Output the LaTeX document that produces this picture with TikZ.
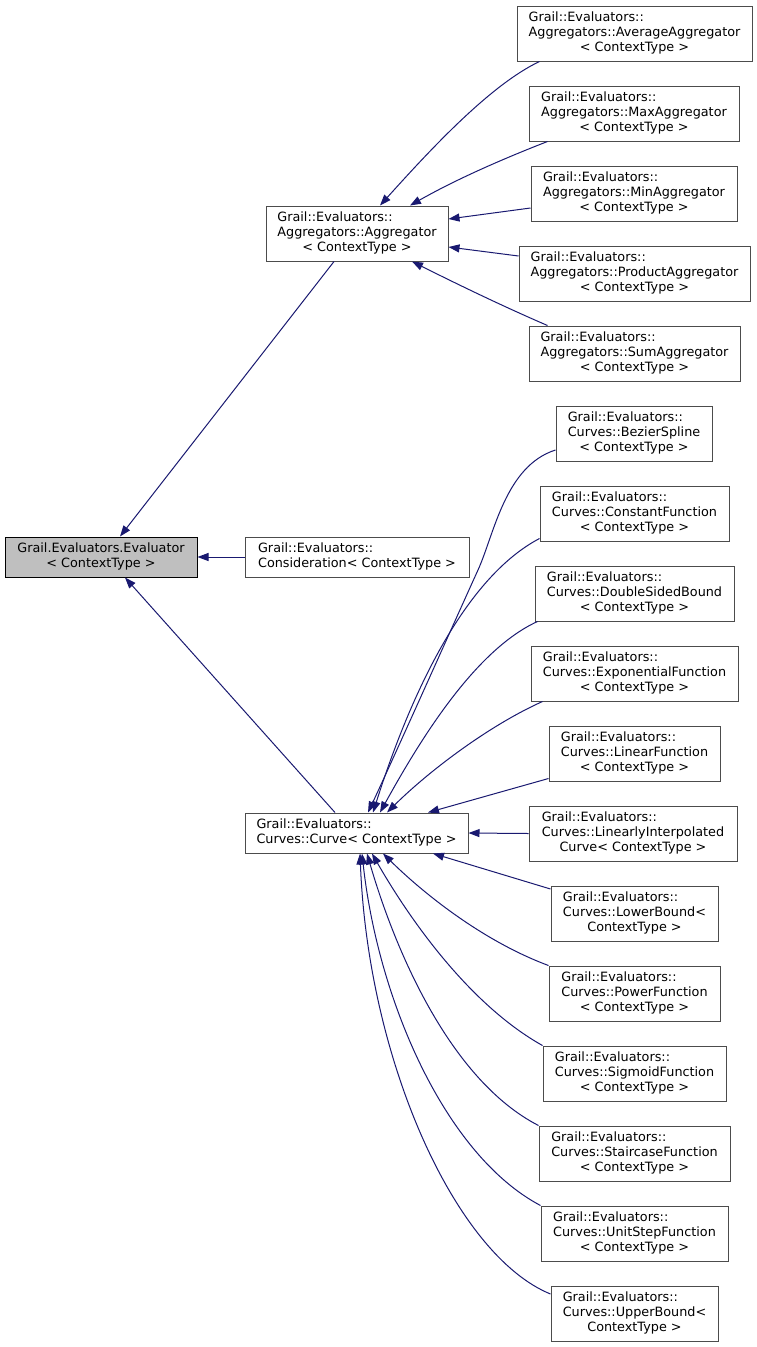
\documentclass[tikz,border=0pt]{standalone}
\usepackage{fontspec}
\setmainfont{DejaVu Sans}
\usetikzlibrary{arrows.meta}
\definecolor{edgeblue}{HTML}{191970}
\definecolor{rootgray}{HTML}{BFBFBF}
\newcommand\clsthree[3]{\begin{tabular}{@{}l@{}}#1\\#2\\\multicolumn{1}{@{}c@{}}{#3}\end{tabular}}
\newcommand\clstwo[2]{\begin{tabular}{@{}l@{}}#1\\#2\end{tabular}}
\begin{document}
\begin{tikzpicture}[x=1pt,y=-1pt,
    cls/.style={draw=black!70,line width=1pt,fill=white,inner sep=0pt,minimum height=55pt,
      font=\fontsize{12.8}{14.7}\selectfont},
    edge/.style={draw=edgeblue,line width=1pt,-{Triangle[length=11pt,width=8pt]}}]
\useasboundingbox (0,0) rectangle (757,1347);

% base classes
\node[cls,draw=black,fill=rootgray,minimum width=192pt,minimum height=40pt] (eval) at (101,557)
  {\begin{tabular}{@{}c@{}}Grail.Evaluators.Evaluator\\< ContextType >\end{tabular}};
\node[cls,minimum width=224pt,minimum height=40pt] (cons) at (357,557)
  {\clstwo{Grail::Evaluators::}{Consideration< ContextType >}};
\node[cls,minimum width=182pt] (agg) at (357,233.5)
  {\clsthree{Grail::Evaluators::}{Aggregators::Aggregator}{< ContextType >}};
\node[cls,minimum width=223pt,minimum height=40pt] (curve) at (356.5,833)
  {\clstwo{Grail::Evaluators::}{Curves::Curve< ContextType >}};

% aggregators
\node[cls,minimum width=235pt] (avg) at (634.5,33.5)
  {\clsthree{Grail::Evaluators::}{Aggregators::AverageAggregator}{< ContextType >}};
\node[cls,minimum width=210pt] (max) at (634,113.5)
  {\clsthree{Grail::Evaluators::}{Aggregators::MaxAggregator}{< ContextType >}};
\node[cls,minimum width=206pt] (min) at (634,193.5)
  {\clsthree{Grail::Evaluators::}{Aggregators::MinAggregator}{< ContextType >}};
\node[cls,minimum width=231pt] (prod) at (634.5,273.5)
  {\clsthree{Grail::Evaluators::}{Aggregators::ProductAggregator}{< ContextType >}};
\node[cls,minimum width=211pt] (sum) at (634.5,353.5)
  {\clsthree{Grail::Evaluators::}{Aggregators::SumAggregator}{< ContextType >}};

% curves
\node[cls,minimum width=156pt] (bez) at (634,433.5)
  {\clsthree{Grail::Evaluators::}{Curves::BezierSpline}{< ContextType >}};
\node[cls,minimum width=189pt] (const) at (634.5,513.5)
  {\clsthree{Grail::Evaluators::}{Curves::ConstantFunction}{< ContextType >}};
\node[cls,minimum width=199pt] (dsb) at (634.5,593.5)
  {\clsthree{Grail::Evaluators::}{Curves::DoubleSidedBound}{< ContextType >}};
\node[cls,minimum width=207pt] (exp) at (634.5,673.5)
  {\clsthree{Grail::Evaluators::}{Curves::ExponentialFunction}{< ContextType >}};
\node[cls,minimum width=171pt] (lin) at (634.5,753.5)
  {\clsthree{Grail::Evaluators::}{Curves::LinearFunction}{< ContextType >}};
\node[cls,minimum width=208pt] (li) at (633,833.5)
  {\clsthree{Grail::Evaluators::}{Curves::LinearlyInterpolated}{Curve< ContextType >}};
\node[cls,minimum width=167pt] (low) at (634.5,913.5)
  {\clsthree{Grail::Evaluators::}{Curves::LowerBound<}{ContextType >}};
\node[cls,minimum width=171pt] (pow) at (634.5,993.5)
  {\clsthree{Grail::Evaluators::}{Curves::PowerFunction}{< ContextType >}};
\node[cls,minimum width=183pt] (sig) at (634.5,1073.5)
  {\clsthree{Grail::Evaluators::}{Curves::SigmoidFunction}{< ContextType >}};
\node[cls,minimum width=191pt] (stair) at (634.5,1153.5)
  {\clsthree{Grail::Evaluators::}{Curves::StaircaseFunction}{< ContextType >}};
\node[cls,minimum width=187pt] (unit) at (634.5,1233.5)
  {\clsthree{Grail::Evaluators::}{Curves::UnitStepFunction}{< ContextType >}};
\node[cls,minimum width=167pt] (upper) at (634.5,1313.5)
  {\clsthree{Grail::Evaluators::}{Curves::UpperBound<}{ContextType >}};

% inheritance
\draw[edge] (cons.west) -- (eval.east);
\draw[edge] ([xshift=-23pt]agg.south) -- ([xshift=19pt]eval.north);
\draw[edge] ([xshift=-21.5pt]curve.north) -- ([xshift=24pt]eval.south);

\draw[edge] ([xshift=23pt]avg.south west) .. controls (490,85) and (430,150) .. ([xshift=23pt]agg.north);
\draw[edge] ([xshift=19pt]max.south west) .. controls (500,160) and (455,180) .. ([xshift=53pt]agg.north);
\draw[edge] ([yshift=-14.5pt]min.west) -- ([yshift=14.5pt]agg.east);
\draw[edge] ([yshift=17.5pt]prod.west) -- ([yshift=-13.5pt]agg.east);
\draw[edge] ([xshift=19pt]sum.north west) .. controls (500,305) and (455,283) .. ([xshift=55pt]agg.south);

\draw[edge] ([yshift=-16.5pt]bez.west) .. controls (505,466) and (494,535) .. (478,570)
  .. controls (462,605) and (395,755) .. ([xshift=11.5pt]curve.north);
\draw[edge] ([yshift=3pt]const.south west) .. controls (470,575) and (415,680) .. ([xshift=16.5pt]curve.north);
\draw[edge] ([xshift=3pt]dsb.south west) .. controls (475,650) and (420,740) .. ([xshift=23.5pt]curve.north);
\draw[edge] ([xshift=12pt]exp.south west) .. controls (490,725) and (430,770) .. ([xshift=30.5pt]curve.north);
\draw[edge] ([yshift=3pt]lin.south west) -- ([xshift=71.5pt]curve.north);
\draw[edge] (li.west) -- (curve.east);
\draw[edge] ([yshift=24.5pt]low.west) -- ([xshift=76.5pt]curve.south);
\draw[edge] (pow.north west) .. controls (480,940) and (420,890) .. ([xshift=26.5pt]curve.south);
\draw[edge] (sig.north west) .. controls (470,1005) and (410,920) .. ([xshift=15.5pt]curve.south);
\draw[edge] (stair.north west) .. controls (450,1080) and (395,950) .. ([xshift=10.5pt]curve.south);
\draw[edge] (unit.north west) .. controls (445,1155) and (378,1000) .. ([xshift=5.5pt]curve.south);
\draw[edge] ([yshift=19.5pt]upper.west) .. controls (455,1255) and (368,1060) .. ([xshift=3.5pt]curve.south);
\end{tikzpicture}
\end{document}
